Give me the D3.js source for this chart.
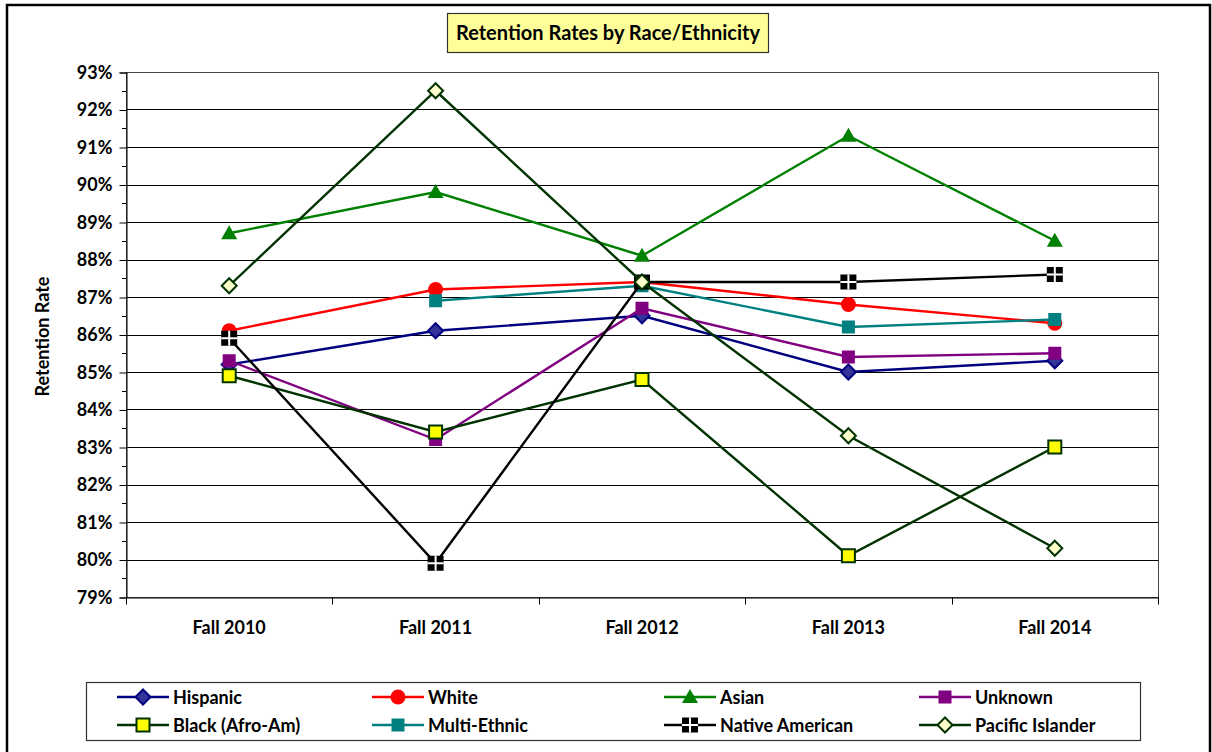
<!DOCTYPE html>
<html>
<head>
<meta charset="utf-8">
<script src="https://cdn.jsdelivr.net/npm/d3@7"></script>
<style>
  body { margin: 0; background: #fff; }
  text { font-family: Lato, "Liberation Sans", sans-serif; font-weight: bold; }
</style>
</head>
<body>
<svg id="chart" width="1212" height="752"></svg>
<script>
// data
const years = ["Fall 2010", "Fall 2011", "Fall 2012", "Fall 2013", "Fall 2014"];
const hispanic = [85.2, 86.1, 86.5, 85.0, 85.3];
const white = [86.1, 87.2, 87.4, 86.8, 86.3];
const asian = [88.7, 89.8, 88.1, 91.3, 88.5];
const unknown = [85.3, 83.2, 86.7, 85.4, 85.5];
const black = [84.9, 83.4, 84.8, 80.1, 83.0];
const multiEthnic = [null, 86.9, 87.3, 86.2, 86.4];
const nativeAmerican = [85.9, 79.9, 87.4, 87.4, 87.6];
const pacificIslander = [87.3, 92.5, 87.4, 83.3, 80.3];
const yTicks = d3.range(79, 94, 1);

const series = [
  {name: "Hispanic", values: hispanic, color: "#000080", marker: "diamond", fill: "#333399"},
  {name: "White", values: white, color: "#ff0000", marker: "circle", fill: "#ff0000"},
  {name: "Asian", values: asian, color: "#008000", marker: "triangle", fill: "#008000"},
  {name: "Unknown", values: unknown, color: "#800080", marker: "square", fill: "#800080"},
  {name: "Black (Afro-Am)", values: black, color: "#003300", marker: "box", fill: "#ffff00"},
  {name: "Multi-Ethnic", values: multiEthnic, color: "#008080", marker: "square", fill: "#008080"},
  {name: "Native American", values: nativeAmerican, color: "#000000", marker: "cross", fill: "#000000"},
  {name: "Pacific Islander", values: pacificIslander, color: "#003300", marker: "diamondOpen", fill: "#ffffcc"}
];

const svg = d3.select("#chart");
const m = {left: 126, right: 1158, top: 72, bottom: 597};

// outer frame
svg.append("rect").attr("x", 7).attr("y", 5).attr("width", 1203).attr("height", 760)
  .attr("fill", "#fff").attr("stroke", "#000").attr("stroke-width", 2.5);

const x = d3.scaleBand().domain(years).range([m.left, m.right]);
const y = d3.scaleLinear().domain([79, 93]).range([m.bottom, m.top]);

// gridlines
svg.append("g").selectAll("line").data(yTicks).join("line")
  .attr("x1", m.left).attr("x2", m.right)
  .attr("y1", d => Math.round(y(d)) + 0.5).attr("y2", d => Math.round(y(d)) + 0.5)
  .attr("stroke", "#000").attr("stroke-width", 1);

svg.append("rect").attr("x", m.left + 0.5).attr("y", m.top + 0.5)
  .attr("width", m.right - m.left).attr("height", m.bottom - m.top)
  .attr("fill", "none").attr("stroke", "#444").attr("stroke-width", 1);

// y axis
const yAxis = d3.axisLeft(y).tickValues(yTicks).tickFormat(d => d + "%").tickSize(7).tickPadding(7);
const gy = svg.append("g").attr("transform", `translate(${m.left + 0.5},0.5)`).call(yAxis);
gy.selectAll(".tick text").attr("font-size", 18).attr("fill", "#000");
gy.select(".domain").attr("stroke", "#000");
svg.append("g").selectAll("line").data(d3.range(79.5, 93, 1)).join("line")
  .attr("x1", m.left - 4).attr("x2", m.left)
  .attr("y1", d => Math.round(y(d)) + 0.5).attr("y2", d => Math.round(y(d)) + 0.5)
  .attr("stroke", "#000");

// x axis
const gx = svg.append("g").attr("transform", `translate(0,${m.bottom + 0.5})`)
  .call(d3.axisBottom(x).tickSize(0).tickPadding(24));
gx.selectAll(".tick text").attr("font-size", 18).attr("fill", "#000");
gx.select(".domain").attr("stroke", "#000");
gx.append("g").selectAll("line").data(d3.range(years.length + 1)).join("line")
  .attr("x1", i => Math.round(m.left + i * x.step()) + 0.5)
  .attr("x2", i => Math.round(m.left + i * x.step()) + 0.5)
  .attr("y1", 0).attr("y2", 7).attr("stroke", "#000");

svg.append("text").attr("transform", `translate(49,${(m.top + m.bottom) / 2 + 2}) rotate(-90)`)
  .attr("text-anchor", "middle").attr("font-size", 18).text("Retention Rate");

// markers
function drawMarker(g, s, cx, cy) {
  if (s.marker === "diamond" || s.marker === "diamondOpen") {
    const r = 7.5;
    g.append("path").attr("d", `M${cx},${cy - r}L${cx + r},${cy}L${cx},${cy + r}L${cx - r},${cy}Z`)
      .attr("fill", s.fill).attr("stroke", s.color).attr("stroke-width", 2);
  } else if (s.marker === "circle") {
    g.append("circle").attr("cx", cx).attr("cy", cy).attr("r", 7.5).attr("fill", s.fill);
  } else if (s.marker === "triangle") {
    g.append("path").attr("d", `M${cx},${cy - 8}L${cx + 8},${cy + 6}L${cx - 8},${cy + 6}Z`)
      .attr("fill", s.fill);
  } else if (s.marker === "square") {
    g.append("rect").attr("x", cx - 6.5).attr("y", cy - 6.5).attr("width", 13).attr("height", 13)
      .attr("fill", s.fill);
  } else if (s.marker === "box") {
    g.append("rect").attr("x", cx - 6.5).attr("y", cy - 6.5).attr("width", 13).attr("height", 13)
      .attr("fill", s.fill).attr("stroke", s.color).attr("stroke-width", 2);
  } else if (s.marker === "cross") {
    g.append("rect").attr("x", cx - 8).attr("y", cy - 7.5).attr("width", 16).attr("height", 15)
      .attr("fill", "#000");
    g.append("path").attr("d", `M${cx - 8},${cy}H${cx + 8}M${cx},${cy - 7.5}V${cy + 7.5}`)
      .attr("stroke", "#fff").attr("stroke-width", 2);
  }
}

const line = d3.line().defined(d => d.v != null)
  .x(d => x(d.year) + x.bandwidth() / 2).y(d => y(d.v));

series.forEach(s => {
  const pts = years.map((yr, i) => ({year: yr, v: s.values[i]}));
  const g = svg.append("g");
  g.append("path").datum(pts).attr("d", line).attr("fill", "none")
    .attr("stroke", s.color).attr("stroke-width", 2.4);
  pts.filter(d => d.v != null).forEach(d =>
    drawMarker(g, s, x(d.year) + x.bandwidth() / 2, y(d.v)));
});

// title
const tg = svg.append("g");
tg.append("rect").attr("x", 447.5).attr("y", 13.5).attr("width", 321).attr("height", 39)
  .attr("fill", "#ffff99").attr("stroke", "#333").attr("stroke-width", 1.2);
tg.append("text").attr("x", 608).attr("y", 40).attr("text-anchor", "middle")
  .attr("font-size", 20).text("Retention Rates by Race/Ethnicity");

// legend
const lg = svg.append("g");
lg.append("rect").attr("x", 86.5).attr("y", 682.5).attr("width", 1054).attr("height", 58)
  .attr("fill", "#fff").attr("stroke", "#333").attr("stroke-width", 1.2);
const colX = [117, 372, 664, 919];
const rowY = [697, 725];
series.forEach((s, i) => {
  const lx = colX[i % 4], ly = rowY[Math.floor(i / 4)];
  const g = lg.append("g");
  g.append("line").attr("x1", lx).attr("x2", lx + 52).attr("y1", ly).attr("y2", ly)
    .attr("stroke", s.color).attr("stroke-width", 2.4);
  drawMarker(g, s, lx + 26, ly);
  g.append("text").attr("x", lx + 56).attr("y", ly + 6.5).attr("font-size", 18).text(s.name);
});
</script>
</body>
</html>
